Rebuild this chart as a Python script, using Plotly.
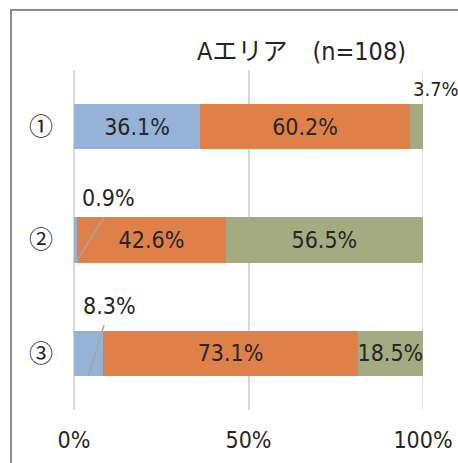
import plotly.graph_objects as go

categories = ["①", "②", "③"]
series_names = ["A", "B", "C"]
values_a = [36.1, 0.9, 8.3]
values_b = [60.2, 42.6, 73.1]
values_c = [3.7, 56.5, 18.5]
colors = ["#95B3D7", "#DF8049", "#A5AB81"]
tick_vals = [0, 50, 100]
tick_text = ["0%", "50%", "100%"]
title_text = "Aエリア　(n=108)"

FONT = "Liberation Sans Narrow, DejaVu Sans Condensed, Noto Sans CJK JP, sans-serif"
CJK = "Noto Sans CJK JP, sans-serif"
TXT = "#262626"
GRID = "#D9D9D9"
BAR_W = 0.4
FS = 23

fig = go.Figure()
for name, vals, col in zip(series_names, [values_a, values_b, values_c], colors):
    texts = [f"{v:.1f}%" if v >= 10 else "" for v in vals]
    fig.add_trace(go.Bar(
        y=categories, x=vals, orientation="h", name=name,
        marker=dict(color=col, line=dict(width=0)),
        width=BAR_W, text=texts, textposition="inside",
        insidetextanchor="middle", constraintext="none",
        textfont=dict(family=FONT, size=FS, color=TXT),
        hoverinfo="skip",
    ))

# gridline at the right edge (plotly drops edge gridlines)
fig.add_shape(type="line", xref="x", yref="paper", x0=tick_vals[-1], x1=tick_vals[-1],
              y0=0, y1=1, line=dict(color=GRID, width=1.5), layer="below")

# row 1: small green segment label above right end
cum1 = round(values_a[0] + values_b[0] + values_c[0], 6)
fig.add_annotation(x=cum1, y=0, yref="y", xref="x", text=f"{values_c[0]:.1f}%",
                   showarrow=False, xanchor="left", yanchor="bottom",
                   xshift=-12, yshift=24,
                   font=dict(family=FONT, size=20, color=TXT))
# rows 2, 3: small blue segment labels with leader lines
for idx, yt in [(1, 0.8), (2, 1.75)]:
    v = values_a[idx]
    fig.add_annotation(x=v / 2, y=yt, xref="x", yref="y", text=f"{v:.1f}%",
                       showarrow=False, xanchor="left", yanchor="bottom",
                       xshift=4 if idx == 1 else -7, yshift=4,
                       font=dict(family=FONT, size=FS, color=TXT))
for idx, x_top, y_top in [(1, 8.6, 0.8), (2, 8.6, 1.75)]:
    v = values_a[idx]
    fig.add_shape(type="line", xref="x", yref="y",
                  x0=v / 2, y0=idx + BAR_W / 2, x1=x_top, y1=y_top,
                  line=dict(color="#A6A6A6", width=1.5))

# outer chart border (partly clipped): left and top edges as filled strips
fig.add_shape(type="rect", xref="paper", yref="paper",
              x0=-0.1834, x1=-0.1777, y0=-0.4, y1=1.1795,
              fillcolor="#8C8C8C", line=dict(width=0))
fig.add_shape(type="rect", xref="paper", yref="paper",
              x0=-0.1834, x1=1.3, y0=1.1735, y1=1.1795,
              fillcolor="#8C8C8C", line=dict(width=0))

fig.add_annotation(x=0.652, y=1.053, xref="paper", yref="paper", text=title_text,
                   showarrow=False, xanchor="center", yanchor="middle",
                   font=dict(family=FONT, size=25, color=TXT))

fig.update_layout(
    width=458, height=463,
    margin=dict(l=74, r=35, t=70, b=53, autoexpand=False),
    barmode="stack", showlegend=False,
    paper_bgcolor="white", plot_bgcolor="white",
    font=dict(family=FONT, color=TXT),
)
fig.update_xaxes(range=[0, 100], tickvals=tick_vals, ticktext=tick_text,
                 showgrid=True, gridcolor=GRID, gridwidth=1.5,
                 zeroline=True, zerolinecolor=GRID, zerolinewidth=1.5,
                 showline=False, ticks="", ticklabelstandoff=14, automargin=False,
                 tickfont=dict(family=FONT, size=FS, color=TXT), fixedrange=True)
fig.update_yaxes(autorange="reversed", showgrid=False, zeroline=False,
                 showline=False, ticks="", ticklabelstandoff=20, automargin=False,
                 tickfont=dict(family=CJK, size=24, color=TXT))

fig.write_html("out.html", config={"displayModeBar": False},
               post_script="document.body.style.margin='0';document.body.style.overflow='hidden';")
